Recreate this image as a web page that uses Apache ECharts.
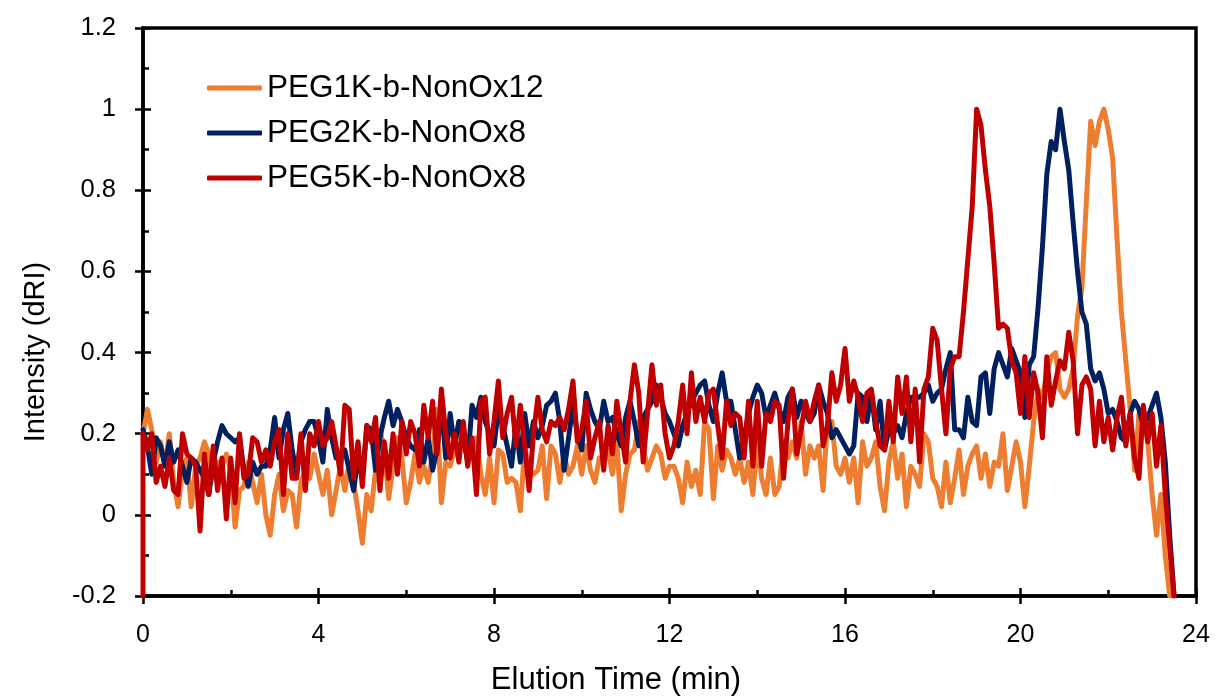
<!DOCTYPE html>
<html>
<head>
<meta charset="utf-8">
<title>GPC traces</title>
<script src="https://cdn.jsdelivr.net/npm/echarts@6/dist/echarts.min.js"></script>
<style>
  html, body { margin: 0; padding: 0; background: #fff; }
  #chart { width: 1217px; height: 696px; }
</style>
</head>
<body>
<div id="chart"></div>
<script>
// Detector sampling: one reading every 0.1 min starting at t = 0
const sampleStart = 0;
const sampleStep = 0.1;

const seriesNames = ['PEG1K-b-NonOx12', 'PEG2K-b-NonOx8', 'PEG5K-b-NonOx8'];
const seriesColors = ['#ED7D31', '#002060', '#C00000'];

const xTicks = { min: 0, max: 24, interval: 4 };
const yTicks = { min: -0.2, max: 1.2, interval: 0.2 };

// Normalised dRI response, PEG1K-b-NonOx12 (0.0 – 23.4 min)
const peg1kValues = [
  0.20, 0.26, 0.21, 0.13, 0.18, 0.12, 0.20, 0.08, 0.02, 0.11,
  0.14, 0.02, 0.12, 0.14, 0.18, 0.15, 0.09, 0.13, 0.12, 0.15,
  0.11, -0.03, 0.06, 0.07, 0.13, 0.08, 0.03, 0.10, 0.00, -0.05,
  0.05, 0.10, 0.01, 0.06, 0.05, -0.03, 0.08, 0.11, 0.09, 0.15,
  0.10, 0.05, 0.11, 0.00, 0.06, 0.12, 0.06, 0.13, 0.08, 0.01,
  -0.07, 0.05, 0.01, 0.11, 0.21, 0.16, 0.04, 0.12, 0.19, 0.14,
  0.03, 0.08, 0.15, 0.08, 0.12, 0.08, 0.15, 0.26, 0.03, 0.13,
  0.12, 0.16, 0.23, 0.22, 0.14, 0.16, 0.19, 0.10, 0.05, 0.14,
  0.03, 0.16, 0.15, 0.08, 0.09, 0.08, 0.01, 0.17, 0.11, 0.10,
  0.11, 0.17, 0.04, 0.17, 0.15, 0.08, 0.15, 0.10, 0.12, 0.17,
  0.10, 0.17, 0.11, 0.08, 0.14, 0.13, 0.16, 0.10, 0.18, 0.01,
  0.10, 0.15, 0.16, 0.23, 0.17, 0.11, 0.14, 0.17, 0.15, 0.09,
  0.12, 0.12, 0.09, 0.03, 0.13, 0.07, 0.11, 0.05, 0.23, 0.21,
  0.04, 0.17, 0.11, 0.16, 0.14, 0.10, 0.14, 0.08, 0.13, 0.05,
  0.18, 0.09, 0.05, 0.14, 0.05, 0.07, 0.18, 0.14, 0.18, 0.14,
  0.23, 0.10, 0.17, 0.14, 0.17, 0.06, 0.23, 0.23, 0.12, 0.10,
  0.14, 0.08, 0.14, 0.03, 0.18, 0.12, 0.14, 0.18, 0.07, 0.01,
  0.13, 0.18, 0.09, 0.15, 0.02, 0.12, 0.10, 0.07, 0.20, 0.18,
  0.09, 0.07, 0.02, 0.13, 0.03, 0.09, 0.16, 0.05, 0.12, 0.15,
  0.17, 0.09, 0.15, 0.07, 0.13, 0.12, 0.20, 0.06, 0.12, 0.18,
  0.13, 0.02, 0.12, 0.23, 0.31, 0.29, 0.35, 0.39, 0.40, 0.31,
  0.29, 0.31, 0.36, 0.49, 0.56, 0.77, 0.97, 0.91, 0.97, 1.00,
  0.95, 0.88, 0.68, 0.50, 0.38, 0.26, 0.11, 0.25, 0.24, 0.18,
  0.05, -0.05, 0.05, -0.10, -0.20
];

// Normalised dRI response, PEG2K-b-NonOx8 (0.0 – 23.5 min)
const peg2kValues = [
  0.21, 0.17, 0.10, 0.19, 0.17, 0.12, 0.18, 0.13, 0.16, 0.12,
  0.08, 0.14, 0.13, 0.11, 0.09, 0.05, 0.13, 0.18, 0.22, 0.20,
  0.19, 0.18, 0.19, 0.11, 0.07, 0.13, 0.10, 0.12, 0.12, 0.16,
  0.24, 0.14, 0.21, 0.25, 0.16, 0.10, 0.18, 0.21, 0.23, 0.23,
  0.19, 0.13, 0.26, 0.19, 0.14, 0.15, 0.16, 0.11, 0.06, 0.14,
  0.09, 0.22, 0.21, 0.11, 0.19, 0.24, 0.28, 0.22, 0.26, 0.23,
  0.19, 0.17, 0.16, 0.21, 0.13, 0.19, 0.11, 0.16, 0.27, 0.14,
  0.25, 0.17, 0.23, 0.19, 0.13, 0.27, 0.24, 0.29, 0.23, 0.20,
  0.17, 0.26, 0.22, 0.17, 0.12, 0.22, 0.13, 0.25, 0.17, 0.23,
  0.19, 0.22, 0.27, 0.28, 0.30, 0.23, 0.11, 0.19, 0.27, 0.20,
  0.16, 0.30, 0.26, 0.23, 0.21, 0.28, 0.23, 0.24, 0.20, 0.17,
  0.24, 0.28, 0.23, 0.17, 0.24, 0.26, 0.28, 0.32, 0.29, 0.25,
  0.23, 0.20, 0.17, 0.22, 0.25, 0.28, 0.30, 0.32, 0.33, 0.27,
  0.23, 0.30, 0.35, 0.28, 0.28, 0.21, 0.14, 0.19, 0.25, 0.29,
  0.32, 0.30, 0.24, 0.27, 0.30, 0.26, 0.23, 0.29, 0.31, 0.24,
  0.28, 0.25, 0.23, 0.25, 0.32, 0.28, 0.25, 0.19, 0.21, 0.19,
  0.17, 0.15, 0.17, 0.30, 0.29, 0.23, 0.30, 0.21, 0.28, 0.16,
  0.21, 0.20, 0.22, 0.19, 0.25, 0.29, 0.29, 0.29, 0.30, 0.32,
  0.28, 0.30, 0.31, 0.36, 0.40, 0.21, 0.21, 0.19, 0.29, 0.23,
  0.22, 0.34, 0.35, 0.25, 0.36, 0.40, 0.37, 0.34, 0.41, 0.38,
  0.35, 0.24, 0.37, 0.39, 0.51, 0.66, 0.84, 0.92, 0.90, 1.00,
  0.92, 0.85, 0.72, 0.60, 0.50, 0.47, 0.36, 0.33, 0.35, 0.31,
  0.25, 0.26, 0.23, 0.19, 0.18, 0.25, 0.28, 0.26, 0.22, 0.24,
  0.27, 0.30, 0.24, 0.13, -0.05, -0.20
];

// Normalised dRI response, PEG5K-b-NonOx8 (0.0 – 23.5 min); the trace
// begins at the lower limit before the first regular reading
const peg5kLeadIn = -0.20;
const peg5kValues = [
  0.20, 0.16, 0.20, 0.08, 0.12, 0.07, 0.14, 0.06, 0.05, 0.20,
  0.15, 0.14, 0.12, -0.04, 0.15, 0.05, 0.17, 0.06, 0.14, -0.01,
  0.14, 0.03, 0.20, 0.09, 0.10, 0.19, 0.18, 0.13, 0.16, 0.12,
  0.18, 0.21, 0.05, 0.20, 0.09, 0.09, 0.20, 0.06, 0.20, 0.17,
  0.23, 0.17, 0.19, 0.23, 0.17, 0.10, 0.27, 0.26, 0.09, 0.18,
  0.07, 0.22, 0.18, 0.24, 0.06, 0.18, 0.09, 0.20, 0.10, 0.23,
  0.15, 0.23, 0.20, 0.12, 0.27, 0.19, 0.28, 0.15, 0.31, 0.20,
  0.14, 0.20, 0.13, 0.23, 0.12, 0.19, 0.05, 0.28, 0.29, 0.15,
  0.23, 0.33, 0.19, 0.25, 0.29, 0.17, 0.27, 0.17, 0.06, 0.20,
  0.29, 0.21, 0.18, 0.23, 0.22, 0.24, 0.21, 0.26, 0.33, 0.18,
  0.21, 0.28, 0.14, 0.19, 0.23, 0.11, 0.22, 0.15, 0.28, 0.20,
  0.13, 0.28, 0.37, 0.30, 0.13, 0.25, 0.37, 0.27, 0.32, 0.20,
  0.14, 0.17, 0.23, 0.32, 0.20, 0.35, 0.23, 0.29, 0.23, 0.30,
  0.31, 0.22, 0.14, 0.28, 0.22, 0.25, 0.24, 0.14, 0.28, 0.12,
  0.28, 0.12, 0.25, 0.23, 0.28, 0.27, 0.09, 0.23, 0.31, 0.15,
  0.21, 0.28, 0.23, 0.28, 0.32, 0.17, 0.22, 0.35, 0.28, 0.32,
  0.41, 0.28, 0.33, 0.29, 0.23, 0.30, 0.31, 0.23, 0.17, 0.16,
  0.28, 0.18, 0.34, 0.25, 0.34, 0.18, 0.31, 0.13, 0.31, 0.34,
  0.46, 0.43, 0.31, 0.20, 0.36, 0.39, 0.39, 0.50, 0.63, 0.76,
  1.00, 0.96, 0.85, 0.76, 0.62, 0.46, 0.47, 0.46, 0.38, 0.35,
  0.25, 0.39, 0.24, 0.35, 0.30, 0.19, 0.39, 0.27, 0.33, 0.38,
  0.36, 0.45, 0.38, 0.20, 0.32, 0.34, 0.31, 0.17, 0.28, 0.18,
  0.24, 0.16, 0.24, 0.29, 0.17, 0.25, 0.14, 0.09, 0.27, 0.18,
  0.25, 0.12, 0.22, 0.05, -0.08, -0.20
];

// Pair each reading with its elution time
function toPoints(values) {
  return values.map((v, i) => [+(sampleStart + i * sampleStep).toFixed(2), v]);
}

const seriesData = [
  toPoints(peg1kValues),
  toPoints(peg2kValues),
  [[sampleStart, peg5kLeadIn]].concat(toPoints(peg5kValues))
];

const FONT = '"Liberation Sans", Arial, sans-serif';
const BLACK = '#000';

const grid = { left: 143, top: 28, width: 1053, height: 568 };

const chart = echarts.init(document.getElementById('chart'), null, { renderer: 'canvas' });

const baseX = {
  type: 'value',
  min: xTicks.min, max: xTicks.max, interval: xTicks.interval,
  position: 'bottom',
  splitLine: { show: false }
};
const baseY = {
  type: 'value',
  min: yTicks.min, max: yTicks.max, interval: yTicks.interval,
  position: 'left',
  splitLine: { show: false }
};

chart.setOption({
  animation: false,
  backgroundColor: '#fff',
  grid: Object.assign({ show: true, borderColor: BLACK, borderWidth: 3.5, backgroundColor: 'transparent' }, grid),
  legend: {
    orient: 'vertical',
    left: 207,
    top: 70,
    padding: 0,
    itemWidth: 55,
    itemHeight: 5,
    itemGap: 9,
    icon: 'roundRect',
    data: seriesNames,
    textStyle: { fontFamily: FONT, fontSize: 31.5, color: BLACK, lineHeight: 36 }
  },
  xAxis: [
    Object.assign({}, baseX, {
      axisLine: { show: true, onZero: false, lineStyle: { color: BLACK, width: 3.5 } },
      axisTick: { show: true, inside: false, length: 8, lineStyle: { color: BLACK, width: 2.5 } },
      minorTick: { show: false },
      axisLabel: { show: true, margin: 27, fontFamily: FONT, fontSize: 25, color: BLACK }
    }),
    Object.assign({}, baseX, {
      axisLine: { show: false, onZero: false },
      axisTick: { show: true, inside: true, length: 8, lineStyle: { color: BLACK, width: 2.5 } },
      minorTick: { show: true, splitNumber: 2, length: 6, lineStyle: { color: BLACK, width: 2.5 } },
      axisLabel: { show: false }
    })
  ],
  yAxis: [
    Object.assign({}, baseY, {
      axisLine: { show: true, onZero: false, lineStyle: { color: BLACK, width: 3.5 } },
      axisTick: { show: true, inside: false, length: 8, lineStyle: { color: BLACK, width: 2.5 } },
      minorTick: { show: false },
      axisLabel: { show: true, margin: 27, fontFamily: FONT, fontSize: 25.5, color: BLACK }
    }),
    Object.assign({}, baseY, {
      axisLine: { show: false, onZero: false },
      axisTick: { show: true, inside: true, length: 8, lineStyle: { color: BLACK, width: 2.5 } },
      minorTick: { show: true, splitNumber: 2, length: 6, lineStyle: { color: BLACK, width: 2.5 } },
      axisLabel: { show: false }
    })
  ],
  graphic: [
    {
      type: 'text',
      x: 36, y: 352,
      rotation: Math.PI / 2,
      style: {
        text: 'Intensity (dRI)',
        fontFamily: FONT, fontSize: 29, fill: BLACK,
        align: 'center', verticalAlign: 'middle'
      }
    },
    {
      type: 'text',
      x: 616, y: 680,
      style: {
        text: 'Elution Time (min)',
        fontFamily: FONT, fontSize: 31, fill: BLACK,
        align: 'center', verticalAlign: 'middle'
      }
    }
  ],
  series: seriesData.map((data, i) => ({
    name: seriesNames[i],
    type: 'line',
    xAxisIndex: 0,
    yAxisIndex: 0,
    data: data,
    showSymbol: false,
    symbol: 'none',
    color: seriesColors[i],
    lineStyle: { color: seriesColors[i], width: 5, join: 'round', cap: 'round' },
    z: 2 + i
  }))
});
</script>
</body>
</html>
